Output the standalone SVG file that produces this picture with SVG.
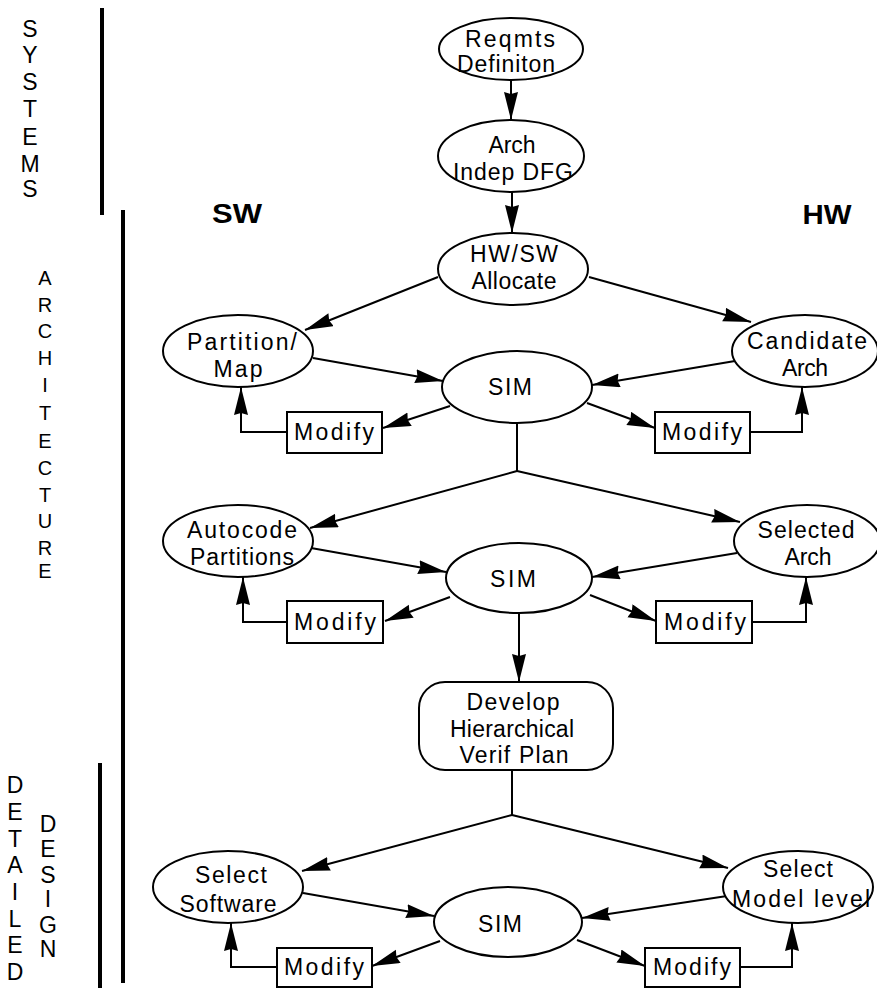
<svg xmlns="http://www.w3.org/2000/svg" width="877" height="988" viewBox="0 0 877 988">
  <style>
    .shape { fill: #fff; stroke: #000; stroke-width: 2; }
    .lbl { font-family: "Liberation Sans", Arial, sans-serif; font-size: 23px; fill: #000; text-anchor: middle; }
    .side { font-family: "Liberation Sans", Arial, sans-serif; font-size: 23px; fill: #000; text-anchor: middle; }
    .head { font-family: "Liberation Sans", Arial, sans-serif; font-size: 27px; font-weight: bold; fill: #000; text-anchor: middle; }
    .bar { stroke: #000; stroke-width: 4; fill: none; }
    .conn { stroke: #000; stroke-width: 2; fill: none; }
    .arr { marker-end: url(#ah); }
  </style>
  <defs>
    <marker id="ah" markerUnits="userSpaceOnUse" markerWidth="32" markerHeight="16" refX="28" refY="7" orient="auto">
      <path d="M0,0 L28,7 L0,14 L2,7 z" fill="#000"/>
    </marker>
  </defs>
  <rect width="877" height="988" fill="#fff"/>

  <!-- phase bars and labels -->
  <g id="phases">
    <line class="bar" x1="102" y1="8" x2="102" y2="215"/>
    <line class="bar" x1="123" y1="210" x2="123" y2="983"/>
    <line class="bar" x1="100" y1="763" x2="100" y2="988"/>
    <text class="side"><tspan x="30" y="37">S</tspan><tspan x="30" y="63">Y</tspan><tspan x="30" y="90">S</tspan><tspan x="30" y="117">T</tspan><tspan x="30" y="145">E</tspan><tspan x="30" y="172">M</tspan><tspan x="30" y="197">S</tspan></text>
    <text class="side" style="font-size:20px"><tspan x="45" y="285">A</tspan><tspan x="45" y="312">R</tspan><tspan x="45" y="338">C</tspan><tspan x="45" y="365">H</tspan><tspan x="45" y="392">I</tspan><tspan x="45" y="420">T</tspan><tspan x="45" y="448">E</tspan><tspan x="45" y="475">C</tspan><tspan x="45" y="502">T</tspan><tspan x="45" y="528">U</tspan><tspan x="45" y="555">R</tspan><tspan x="45" y="578">E</tspan></text>
    <text class="side"><tspan x="15" y="793">D</tspan><tspan x="15" y="820">E</tspan><tspan x="15" y="847">T</tspan><tspan x="15" y="873">A</tspan><tspan x="15" y="900">I</tspan><tspan x="15" y="927">L</tspan><tspan x="15" y="953">E</tspan><tspan x="15" y="980">D</tspan></text>
    <text class="side"><tspan x="48" y="832">D</tspan><tspan x="48" y="857">E</tspan><tspan x="48" y="883">S</tspan><tspan x="48" y="907">I</tspan><tspan x="48" y="933">G</tspan><tspan x="48" y="957">N</tspan></text>
    <text class="head" x="237" y="223" textLength="50" lengthAdjust="spacingAndGlyphs">SW</text>
    <text class="head" x="827" y="224" textLength="49" lengthAdjust="spacingAndGlyphs">HW</text>
  </g>

  <!-- connectors -->
  <g id="connectors">
    <line class="conn arr" x1="511" y1="80" x2="511" y2="120"/>
    <line class="conn arr" x1="512" y1="192" x2="512" y2="233"/>
    <line class="conn arr" x1="438" y1="277" x2="305" y2="330"/>
    <line class="conn arr" x1="589" y1="277" x2="751" y2="322"/>
    <line class="conn arr" x1="313" y1="358" x2="443" y2="381"/>
    <line class="conn arr" x1="735" y1="361" x2="592" y2="385"/>
    <line class="conn arr" x1="450" y1="406" x2="383" y2="428"/>
    <line class="conn arr" x1="587" y1="403" x2="655" y2="428"/>
    <polyline class="conn arr" points="287,432 241,432 241,387"/>
    <polyline class="conn arr" points="750,432 802,432 802,387"/>
    <line class="conn" x1="517" y1="423" x2="517" y2="471"/>
    <line class="conn arr" x1="517" y1="471" x2="310" y2="528"/>
    <line class="conn arr" x1="517" y1="471" x2="740" y2="522"/>
    <line class="conn arr" x1="311" y1="548" x2="446" y2="572"/>
    <line class="conn arr" x1="737" y1="553" x2="592" y2="577"/>
    <line class="conn arr" x1="450" y1="597" x2="385" y2="621"/>
    <line class="conn arr" x1="590" y1="595" x2="656" y2="621"/>
    <polyline class="conn arr" points="287,622 243,622 243,577"/>
    <polyline class="conn arr" points="752,622 806,622 806,577"/>
    <line class="conn arr" x1="519" y1="613" x2="519" y2="682"/>
    <line class="conn" x1="512" y1="770" x2="512" y2="815"/>
    <line class="conn arr" x1="512" y1="815" x2="302" y2="871"/>
    <line class="conn arr" x1="512" y1="815" x2="728" y2="868"/>
    <line class="conn arr" x1="303" y1="893" x2="434" y2="916"/>
    <line class="conn arr" x1="727" y1="896" x2="582" y2="918"/>
    <line class="conn arr" x1="440" y1="941" x2="372" y2="966"/>
    <line class="conn arr" x1="577" y1="940" x2="645" y2="966"/>
    <polyline class="conn arr" points="277,967 231,967 231,923"/>
    <polyline class="conn arr" points="740,967 792,967 792,923"/>
  </g>

  <!-- systems level -->
  <g id="reqmts">
    <ellipse class="shape" cx="511" cy="49" rx="72" ry="31"/>
    <text class="lbl" x="510" y="47" textLength="90" lengthAdjust="spacing">Reqmts</text>
    <text class="lbl" x="506" y="72" textLength="98" lengthAdjust="spacing">Definiton</text>
  </g>
  <g id="arch-indep">
    <ellipse class="shape" cx="511" cy="156" rx="73" ry="36"/>
    <text class="lbl" x="512" y="153" textLength="47" lengthAdjust="spacing">Arch</text>
    <text class="lbl" x="513" y="180" textLength="120" lengthAdjust="spacing">Indep DFG</text>
  </g>

  <!-- architecture level -->
  <g id="hwsw-allocate">
    <ellipse class="shape" cx="513" cy="269" rx="75" ry="36"/>
    <text class="lbl" x="514" y="262" textLength="88" lengthAdjust="spacing">HW/SW</text>
    <text class="lbl" x="514" y="289" textLength="85" lengthAdjust="spacing">Allocate</text>
  </g>
  <g id="partition-map">
    <ellipse class="shape" cx="238" cy="351" rx="75" ry="36"/>
    <text class="lbl" x="242" y="350" textLength="110" lengthAdjust="spacing">Partition/</text>
    <text class="lbl" x="238" y="377" textLength="49" lengthAdjust="spacing">Map</text>
  </g>
  <g id="sim-1">
    <ellipse class="shape" cx="517" cy="387" rx="75" ry="36"/>
    <text class="lbl" x="510" y="395" textLength="44" lengthAdjust="spacing">SIM</text>
  </g>
  <g id="candidate-arch">
    <ellipse class="shape" cx="805" cy="351" rx="73" ry="36"/>
    <text class="lbl" x="807" y="349" textLength="120" lengthAdjust="spacing">Candidate</text>
    <text class="lbl" x="805" y="376" textLength="46" lengthAdjust="spacing">Arch</text>
  </g>
  <g id="modify-1">
    <rect class="shape" x="287" y="412" width="95" height="41"/>
    <text class="lbl" x="334" y="440" textLength="80" lengthAdjust="spacing">Modify</text>
  </g>
  <g id="modify-2">
    <rect class="shape" x="655" y="412" width="95" height="41"/>
    <text class="lbl" x="702" y="440" textLength="80" lengthAdjust="spacing">Modify</text>
  </g>
  <g id="autocode-partitions">
    <ellipse class="shape" cx="238" cy="541" rx="75" ry="36"/>
    <text class="lbl" x="242" y="538" textLength="110" lengthAdjust="spacing">Autocode</text>
    <text class="lbl" x="242" y="565" textLength="104" lengthAdjust="spacing">Partitions</text>
  </g>
  <g id="sim-2">
    <ellipse class="shape" cx="519" cy="578" rx="73" ry="35"/>
    <text class="lbl" x="513" y="587" textLength="46" lengthAdjust="spacing">SIM</text>
  </g>
  <g id="selected-arch">
    <ellipse class="shape" cx="807" cy="541" rx="73" ry="36"/>
    <text class="lbl" x="806" y="538" textLength="97" lengthAdjust="spacing">Selected</text>
    <text class="lbl" x="808" y="565" textLength="47" lengthAdjust="spacing">Arch</text>
  </g>
  <g id="modify-3">
    <rect class="shape" x="287" y="601" width="96" height="42"/>
    <text class="lbl" x="335" y="630" textLength="82" lengthAdjust="spacing">Modify</text>
  </g>
  <g id="modify-4">
    <rect class="shape" x="656" y="601" width="96" height="42"/>
    <text class="lbl" x="705" y="630" textLength="82" lengthAdjust="spacing">Modify</text>
  </g>
  <g id="verif-plan">
    <rect class="shape" x="419" y="682" width="194" height="88" rx="26" ry="26"/>
    <text class="lbl" x="513" y="710" textLength="93" lengthAdjust="spacing">Develop</text>
    <text class="lbl" x="512" y="737" textLength="124" lengthAdjust="spacing">Hierarchical</text>
    <text class="lbl" x="514" y="763" textLength="109" lengthAdjust="spacing">Verif Plan</text>
  </g>

  <!-- detailed design level -->
  <g id="select-software">
    <ellipse class="shape" cx="228" cy="887" rx="75" ry="36"/>
    <text class="lbl" x="231" y="883" textLength="72" lengthAdjust="spacing">Select</text>
    <text class="lbl" x="228" y="912" textLength="97" lengthAdjust="spacing">Software</text>
  </g>
  <g id="sim-3">
    <ellipse class="shape" cx="508" cy="922" rx="74" ry="35"/>
    <text class="lbl" x="500" y="932" textLength="44" lengthAdjust="spacing">SIM</text>
  </g>
  <g id="select-model-level">
    <ellipse class="shape" cx="798" cy="887" rx="75" ry="36"/>
    <text class="lbl" x="798" y="877" textLength="70" lengthAdjust="spacing">Select</text>
    <text class="lbl" x="801" y="907" textLength="138" lengthAdjust="spacing">Model level</text>
  </g>
  <g id="modify-5">
    <rect class="shape" x="277" y="948" width="95" height="39"/>
    <text class="lbl" x="324" y="975" textLength="80" lengthAdjust="spacing">Modify</text>
  </g>
  <g id="modify-6">
    <rect class="shape" x="645" y="948" width="95" height="39"/>
    <text class="lbl" x="692" y="975" textLength="78" lengthAdjust="spacing">Modify</text>
  </g>
</svg>
